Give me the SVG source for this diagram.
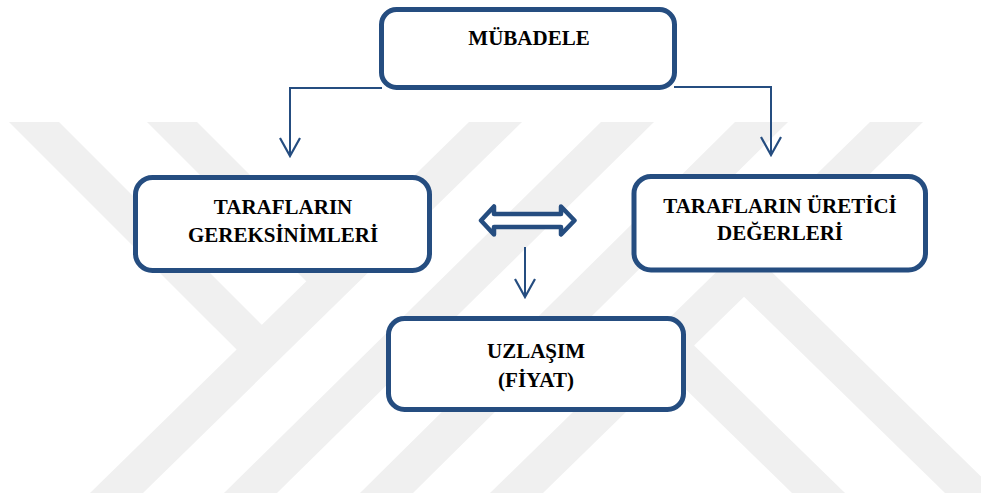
<svg xmlns="http://www.w3.org/2000/svg" width="981" height="498" viewBox="0 0 981 498">
  <defs>
    <style>
      .wm { fill: #f0f0f0; stroke: none; }
      .box { fill: #ffffff; stroke: #254d80; stroke-width: 5; }
      .lbl { font-family: "Liberation Serif", "Times New Roman", serif; font-weight: bold; font-size: 21px; fill: #000000; text-anchor: middle; }
      .conn { fill: none; stroke: #254d80; stroke-width: 2; }
      .dbl { fill: #ffffff; stroke: #254d80; stroke-width: 4.5; stroke-linejoin: round; }
    </style>
    <marker id="vee" viewBox="0 0 22 24" refX="20" refY="12" markerWidth="22" markerHeight="24" markerUnits="userSpaceOnUse" orient="auto">
      <path d="M2,2 L20,12 L2,22" fill="none" stroke="#254d80" stroke-width="2.2"/>
    </marker>
  </defs>
  <rect width="981" height="498" fill="#ffffff"/>

  <g id="watermark">
    <polygon class="wm" points="469,122 522,122 143,493 90,493"/>
    <polygon class="wm" points="601,122 654,122 277,493 224,493"/>
    <polygon class="wm" points="735,122 788,122 413,493 360,493"/>
    <polygon class="wm" points="870,122 923,122 543,493 490,493"/>
    <polygon class="wm" points="9,122 59,122 274.9,337.9 249.8,362.8"/>
    <polygon class="wm" points="147,122 197,122 344.8,269.8 319.5,294.5"/>
    <polygon class="wm" points="792,493 845,493 680.8,332.6 654.2,358.5"/>
    <polygon class="wm" points="945,493 998,493 757.2,257.9 730.7,283.8"/>
  </g>

  <g id="connectors">
    <polyline class="conn" points="382,88 290,88 290,156" marker-end="url(#vee)"/>
    <polyline class="conn" points="674,87 771,87 771,155" marker-end="url(#vee)"/>
    <line class="conn" x1="525" y1="247" x2="525" y2="297" marker-end="url(#vee)"/>
    <polygon id="exchange-arrow" class="dbl" points="481,220.5 494,206.5 494,214 561,214 561,206.5 574.5,220.5 561,234.5 561,227 494,227 494,234.5"/>
  </g>

  <g id="node-mubadele">
    <rect class="box" x="381.5" y="9.5" width="293" height="78" rx="15" ry="15"/>
    <text class="lbl" x="529" y="45">MÜBADELE</text>
  </g>

  <g id="node-gereksinimler">
    <rect class="box" x="135.5" y="177.5" width="294" height="93" rx="17" ry="17"/>
    <text class="lbl" x="283" y="214">TARAFLARIN</text>
    <text class="lbl" x="283" y="242">GEREKSİNİMLERİ</text>
  </g>

  <g id="node-uretici">
    <rect class="box" x="634" y="176.5" width="291.5" height="93.5" rx="17" ry="17"/>
    <text class="lbl" x="780" y="213">TARAFLARIN ÜRETİCİ</text>
    <text class="lbl" x="780" y="240">DEĞERLERİ</text>
  </g>

  <g id="node-uzlasim">
    <rect class="box" x="388.5" y="318.5" width="295" height="91" rx="16" ry="16"/>
    <text class="lbl" x="536" y="358">UZLAŞIM</text>
    <text class="lbl" x="536" y="387">(FİYAT)</text>
  </g>
</svg>
